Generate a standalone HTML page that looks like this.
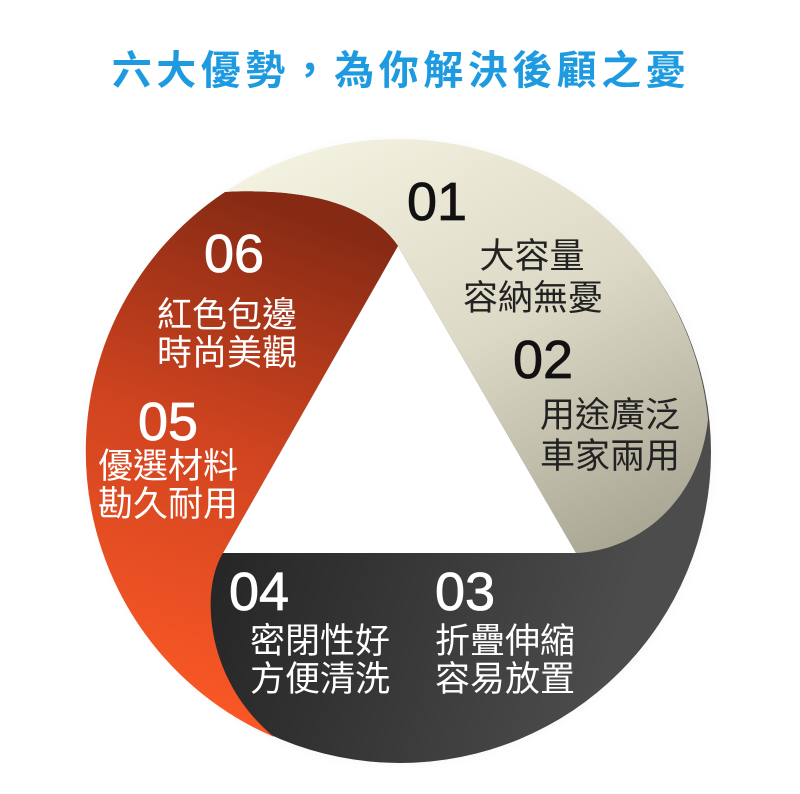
<!DOCTYPE html>
<html><head><meta charset="utf-8"><style>
html,body{margin:0;padding:0;background:#fff;}
svg{display:block}
text{font-family:"Liberation Sans","Noto Sans CJK TC",sans-serif;}
</style></head><body>
<svg width="800" height="794" viewBox="0 0 800 794" xmlns="http://www.w3.org/2000/svg">
<defs>
<linearGradient id="gd" x1="0" y1="0" x2="1" y2="0.3">
<stop offset="0" stop-color="#111"/><stop offset="0.6" stop-color="#333"/><stop offset="1" stop-color="#4c4c4c"/></linearGradient>
<linearGradient id="gc" x1="0.2" y1="0" x2="0.8" y2="1">
<stop offset="0" stop-color="#f3f1df"/><stop offset="0.5" stop-color="#dcd9c6"/><stop offset="1" stop-color="#aaa694"/></linearGradient>
<linearGradient id="go" x1="0.5" y1="0" x2="0.3" y2="1">
<stop offset="0" stop-color="#862a14"/><stop offset="0.45" stop-color="#d04420"/><stop offset="1" stop-color="#ff5a26"/></linearGradient>
<radialGradient id="glow" cx="0.5" cy="0.5" r="0.5">
<stop offset="0.9" stop-color="#bbb" stop-opacity="0.6"/><stop offset="1" stop-color="#fff" stop-opacity="0"/></radialGradient>
</defs>
<text x="401" y="84" text-anchor="middle" font-size="40" font-weight="bold" fill="#1e9be0" letter-spacing="4.5">六大優勢，為你解決後顧之憂</text>
<circle cx="400" cy="452" r="322" fill="url(#glow)"/>
<circle cx="400" cy="452" r="311" fill="url(#gd)"/>
<path d="M576,553 C640,550 700,500 708,419 A311,311 0 0 0 225,192 C307,188 369,204 398,246 Z" fill="url(#gc)"/>
<path d="M223,553 C200,590 205,680 274,737 A311,311 0 0 1 225,192 C307,188 369,204 398,246 Z" fill="url(#go)"/>
<polygon points="398,246 223,553 576,553" fill="#fff"/>
<g font-size="54" fill="#111" stroke="#111" stroke-width="0.8">
<text x="407" y="220">01</text>
<text x="513" y="378">02</text>
</g>
<g font-size="54" fill="#fff" stroke="#fff" stroke-width="0.8">
<text x="204" y="272">06</text>
<text x="138" y="440">05</text>
<text x="229" y="610">04</text>
<text x="435" y="610">03</text>
</g>
<g font-size="35" fill="#222">
<text x="532" y="268" text-anchor="middle">大容量</text>
<text x="533" y="310" text-anchor="middle">容納無憂</text>
<text x="610" y="427" text-anchor="middle">用途廣泛</text>
<text x="610" y="468" text-anchor="middle">車家兩用</text>
</g>
<g font-size="35" fill="#fff">
<text x="227" y="327" text-anchor="middle">紅色包邊</text>
<text x="227" y="365" text-anchor="middle">時尚美觀</text>
<text x="168" y="478" text-anchor="middle">優選材料</text>
<text x="168" y="516" text-anchor="middle">勘久耐用</text>
<text x="320" y="653" text-anchor="middle">密閉性好</text>
<text x="320" y="691" text-anchor="middle">方便清洗</text>
<text x="505" y="653" text-anchor="middle">折疊伸縮</text>
<text x="505" y="691" text-anchor="middle">容易放置</text>
</g>
</svg>
</body></html>
